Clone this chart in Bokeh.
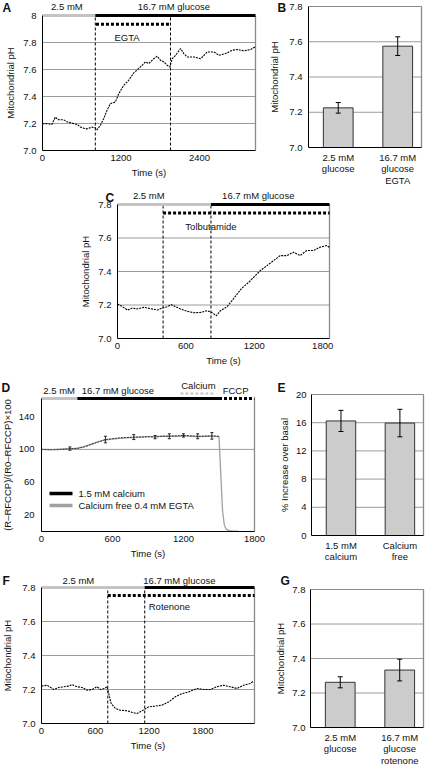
from bokeh.plotting import figure
from bokeh.models import (Range1d, FixedTicker, Label, Whisker, TeeHead,
                          ColumnDataSource, NumeralTickFormatter)
from bokeh.layouts import row, column
from bokeh.embed import file_html
from bokeh.resources import INLINE

FONT = "Liberation Sans"
TXT = "9.5px"
INK = "#111111"
LIGHT = "#c4c4c4"
GRID = "#9c9c9c"
EDGE = "#8a8a8a"

# ---------------- data ----------------
# Panel A : mitochondrial pH, glucose + EGTA
a_time = [0, 66, 143, 194, 245, 322, 373, 450, 526, 603, 679, 756, 807, 832, 884, 935,
          986, 1037, 1113, 1165, 1241, 1318, 1394, 1496, 1573, 1624, 1700, 1752, 1803,
          1854, 1905, 1946, 1982, 2033, 2109, 2160, 2211, 2314, 2416, 2518, 2620, 2697,
          2799, 2901, 2978, 3080, 3182, 3248]
a_ph = [7.198, 7.2, 7.193, 7.247, 7.228, 7.228, 7.213, 7.203, 7.193, 7.168, 7.16, 7.173,
        7.168, 7.153, 7.186, 7.235, 7.297, 7.347, 7.359, 7.42, 7.483, 7.52, 7.574, 7.619,
        7.656, 7.644, 7.68, 7.698, 7.668, 7.656, 7.631, 7.619, 7.68, 7.705, 7.755, 7.718,
        7.693, 7.693, 7.68, 7.73, 7.73, 7.705, 7.718, 7.743, 7.748, 7.738, 7.748, 7.767]
a_gluc_on = 807
a_egta_on = 817
a_egta_off = 1956
a_xmax = 3255
a_xticks = [0, 1200, 2400]
a_yticks = [7.0, 7.2, 7.4, 7.6, 7.8, 8.0]

# Panel B
b_labels = ["2.5 mM\nglucose", "16.7 mM\nglucose\nEGTA"]
b_mean = [7.225, 7.575]
b_sem = [0.03, 0.053]

# Panel C : tolbutamide
c_time = [0, 44, 87, 131, 175, 233, 291, 350, 393, 437, 472, 510, 553, 612, 670, 728,
          786, 830, 868, 903, 961, 1005, 1049, 1092, 1150, 1209, 1252, 1311, 1369, 1427,
          1486, 1544, 1602, 1660, 1719, 1777, 1835, 1858]
c_ph = [7.206, 7.19, 7.17, 7.182, 7.176, 7.186, 7.178, 7.17, 7.182, 7.19, 7.202, 7.19,
        7.176, 7.162, 7.154, 7.156, 7.166, 7.154, 7.136, 7.166, 7.19, 7.226, 7.265, 7.301,
        7.335, 7.375, 7.405, 7.435, 7.465, 7.495, 7.495, 7.515, 7.495, 7.525, 7.525,
        7.545, 7.555, 7.545]
c_tolb_on = 400
c_gluc_on = 820
c_xmax = 1860
t_ticks = [0, 600, 1200, 1800]
ph_ticks = [7.0, 7.2, 7.4, 7.6, 7.8]

# Panel D : normalised ratio, with / without calcium
d_time = [0, 60, 120, 180, 240, 300, 360, 420, 480, 540, 600, 660, 720, 780, 840, 900,
          960, 1020, 1080, 1140, 1200, 1260, 1320, 1380, 1440, 1500]
d_calcium = [100, 100, 99.5, 100, 101, 101, 103, 106, 109, 112, 113, 114, 114.5, 115,
             115, 115.5, 115, 116, 116, 116.5, 117, 116.5, 116, 116, 116.5, 116]
d_free_time = [0, 60, 120, 180, 240, 300, 360, 420, 480, 540, 600, 660, 720, 780, 840,
               900, 960, 1020, 1080, 1140, 1200, 1260, 1320, 1380, 1440, 1500, 1515,
               1530, 1545, 1560, 1590, 1620, 1660]
d_free = [100, 99.5, 100, 100.5, 100.5, 101.5, 103.5, 106.5, 109.5, 111.5, 112.5, 113.5,
          114, 114.5, 115, 115.5, 115.5, 116, 116, 116, 116.5, 116, 115.5, 116, 116, 115.5,
          70, 25, 8, 3, 1, 0.5, 0.5]
d_err_idx = [4, 9, 13, 16, 18, 20, 22, 24]
d_err = [2, 4, 3, 2, 3, 2, 3, 4]
d_series = ["1.5 mM calcium", "Calcium free 0.4 mM EGTA"]
d_colors = ["black", "#a0a0a0"]
d_gluc_on = 303
d_fccp_on = 1500
d_cal_start = 1174
d_cal_end = 1455
d_xmax = 1800
d_ymax = 162
d_yticks = [20, 60, 100, 140]
d_grid = [100]

# Panel E
e_labels = ["1.5 mM\ncalcium", "Calcium\nfree"]
e_mean = [16.25, 15.95]
e_sem = [1.5, 1.95]
e_ticks = [0, 4, 8, 12, 16, 20]

# Panel F : rotenone
f_time = [0, 63, 137, 193, 249, 304, 341, 397, 453, 509, 564, 620, 657, 702, 731, 750,
          776, 824, 880, 954, 1028, 1065, 1102, 1147, 1195, 1269, 1344, 1418, 1492, 1566,
          1641, 1733, 1808, 1882, 1956, 2030, 2105, 2179, 2253, 2327, 2365]
f_ph = [7.22, 7.225, 7.2, 7.212, 7.216, 7.22, 7.229, 7.216, 7.212, 7.196, 7.2, 7.216,
        7.2, 7.206, 7.216, 7.176, 7.118, 7.088, 7.078, 7.075, 7.063, 7.059, 7.069, 7.082,
        7.098, 7.102, 7.108, 7.127, 7.157, 7.176, 7.186, 7.206, 7.2, 7.2, 7.216, 7.225,
        7.216, 7.206, 7.225, 7.235, 7.25]
f_rot_on = 739
f_gluc_on = 1151
f_xmax = 2375

# Panel G
g_labels = ["2.5 mM\nglucose", "16.7 mM\nglucose\nrotenone"]
g_mean = [7.262, 7.333]
g_sem = [0.032, 0.063]


# ---------------- helpers ----------------
class Box:
    """Maps the plot box (data x0..x1, y0..y1) onto a pixel rectangle of the figure."""
    def __init__(self, w, h, left, top, bw, bh, x0, x1, y0, y1):
        self.x0, self.x1, self.y0, self.y1 = x0, x1, y0, y1
        self.sx = bw / (x1 - x0)
        self.sy = bh / (y1 - y0)
        self.xa = x0 - left / self.sx
        self.xb = x1 + (w - left - bw) / self.sx
        self.yb = y1 + top / self.sy
        self.ya = y0 - (h - top - bh) / self.sy

    def X(self, px):
        return self.xa + px / self.sx

    def Y(self, py):
        return self.yb - py / self.sy


def style_axis(ax, tick_so, label_so):
    ax.axis_line_color = "black"
    ax.axis_line_width = 1
    ax.major_tick_out = 0
    ax.major_tick_in = 0
    ax.minor_tick_out = 0
    ax.minor_tick_in = 0
    ax.major_label_text_font = FONT
    ax.major_label_text_font_size = TXT
    ax.major_label_text_color = INK
    ax.axis_label_text_font = FONT
    ax.axis_label_text_font_size = TXT
    ax.axis_label_text_font_style = "normal"
    ax.axis_label_text_color = INK
    ax.major_label_standoff = tick_so
    ax.axis_label_standoff = label_so


def make_panel(w, h, left, top, bw, bh, x0, x1, y0, y1, yticks, grid_ticks,
               xticks=None, y_so=(5, 5)):
    b = Box(w, h, left, top, bw, bh, x0, x1, y0, y1)
    p = figure(width=w, height=h, x_range=Range1d(b.xa, b.xb), y_range=Range1d(b.ya, b.yb),
               output_backend="svg", toolbar_location=None,
               min_border_left=0, min_border_right=0, min_border_top=0, min_border_bottom=0)
    p.outline_line_color = None
    p.xgrid.visible = False
    p.ygrid.visible = False
    p.xaxis.fixed_location = y0
    p.xaxis.bounds = (x0, x1)
    p.yaxis.fixed_location = x0
    p.yaxis.bounds = (y0, y1)
    style_axis(p.xaxis[0], 4, 3)
    style_axis(p.yaxis[0], *y_so)
    p.yaxis.ticker = FixedTicker(ticks=yticks)
    if xticks is not None:
        p.xaxis.ticker = FixedTicker(ticks=xticks)
    n = len(grid_ticks)
    p.segment(x0=[x0] * n, y0=grid_ticks, x1=[x1] * n, y1=grid_ticks,
              line_color=GRID, line_width=1)
    # right edge of the box
    p.segment(x0=[x1], y0=[y0], x1=[x1], y1=[y1], line_color=EDGE, line_width=1.3)
    return p, b


def hbar(p, x0, x1, y, color, dash="solid", width=3):
    p.segment(x0=[x0], y0=[y], x1=[x1], y1=[y], line_color=color,
              line_width=width, line_dash=dash)


def vline(p, b, t):
    p.segment(x0=[t], y0=[b.y0], x1=[t], y1=[b.y1], line_color="black",
              line_width=1, line_dash="3 2")


def txt(p, x, y, text, align="center", size=TXT, bold=False, color=INK):
    p.add_layout(Label(x=x, y=y, text=text, text_align=align, text_baseline="middle",
                       text_font=FONT, text_font_size=size,
                       text_font_style="bold" if bold else "normal", text_color=color))


def letter(p, b, px, py, text):
    txt(p, b.X(px), b.Y(py), text, align="left", size="12px", bold=True)


def trace(p, xs, ys, color="black"):
    p.line(xs, ys, line_color=color, line_width=1.1, line_dash="2 1")


def bar_panel(w, h, left, top, bw, bh, labels, means, sems, y0, y1, yticks, ylabel,
              y_so=(5, 5)):
    p, b = make_panel(w, h, left, top, bw, bh, 0.5, 2.4, y0, y1, yticks, yticks[1:],
                      y_so=y_so)
    p.segment(x0=[b.x0], y0=[y1], x1=[b.x1], y1=[y1], line_color=EDGE, line_width=1)
    xs = list(range(1, len(labels) + 1))
    src = ColumnDataSource(dict(x=xs, top=means,
                                upper=[m + s for m, s in zip(means, sems)],
                                lower=[m - s for m, s in zip(means, sems)]))
    p.vbar(x="x", top="top", bottom=y0, width=0.5, source=src,
           fill_color="#cccccc", line_color="#333333", line_width=1)
    p.add_layout(Whisker(source=src, base="x", upper="upper", lower="lower",
                         line_color="black", line_width=1, level="annotation",
                         upper_head=TeeHead(size=5, line_color="black", line_width=1),
                         lower_head=TeeHead(size=5, line_color="black", line_width=1)))
    p.xaxis.ticker = FixedTicker(ticks=xs)
    p.xaxis.major_label_overrides = {x: l for x, l in zip(xs, labels)}
    p.xaxis.major_label_standoff = 4
    p.xaxis.major_label_text_line_height = 1.05
    p.yaxis.axis_label = ylabel
    return p, b


# ---------------- Panel A ----------------
pa, ba = make_panel(268, 190, 42, 15, 213, 135, 0, a_xmax, 7.0, 8.0,
                    a_yticks, a_yticks[1:-1], a_xticks, y_so=(6, 4))
pa.yaxis.formatter = NumeralTickFormatter(format="0.0")
pa.yaxis.major_label_overrides = {8: "8"}
pa.xaxis.axis_label = "Time (s)"
pa.yaxis.axis_label = "Mitochondrial pH"
trace(pa, a_time, a_ph)
vline(pa, ba, a_gluc_on)
vline(pa, ba, a_egta_off)
hbar(pa, 0, a_gluc_on, 8.0, LIGHT)
hbar(pa, a_gluc_on, a_xmax, 8.0, "black")
hbar(pa, a_egta_on, a_egta_off, 7.936, "black", "3 2")
txt(pa, (a_egta_on + a_egta_off) / 2 - 95, 7.837, "EGTA")
txt(pa, 373, ba.Y(6), "2.5 mM")
txt(pa, 2007, ba.Y(6), "16.7 mM glucose")
letter(pa, ba, 2, 7, "A")

# ---------------- Panel B ----------------
pb, bb = bar_panel(157, 190, 40, 6, 113, 141, b_labels, b_mean, b_sem, 7.0, 7.8,
                   ph_ticks, "Mitochondrial pH", y_so=(6, 6))
pb.yaxis.formatter = NumeralTickFormatter(format="0.0")
letter(pb, bb, 9, 7, "B")

# ---------------- Panel C ----------------
pc, bc = make_panel(425, 190, 117, 14, 212, 134, 0, c_xmax, 7.0, 7.8,
                    ph_ticks, ph_ticks[1:-1], t_ticks, y_so=(6, 4))
pc.yaxis.formatter = NumeralTickFormatter(format="0.0")
pc.xaxis.axis_label = "Time (s)"
pc.yaxis.axis_label = "Mitochondrial pH"
trace(pc, c_time, c_ph)
vline(pc, bc, c_tolb_on)
vline(pc, bc, c_gluc_on)
hbar(pc, 0, c_gluc_on, 7.8, LIGHT)
hbar(pc, c_gluc_on, c_xmax, 7.8, "black")
hbar(pc, c_tolb_on, c_xmax, 7.75, "black", "3 2")
txt(pc, c_gluc_on, 7.669, "Tolbutamide")
txt(pc, 274, bc.Y(5), "2.5 mM")
txt(pc, 1235, bc.Y(5), "16.7 mM glucose")
letter(pc, bc, 105, 7, "C")

# ---------------- Panel D ----------------
pd_, bd = make_panel(268, 195, 41, 18, 213, 133, 0, d_xmax, 0, d_ymax,
                     d_yticks, d_grid, t_ticks, y_so=(7, 3))
pd_.xaxis.axis_label = "Time (s)"
pd_.yaxis.axis_label = "(R\u2013RFCCP)/(R0\u2013RFCCP)\u00d7100"
pd_.line(d_free_time, d_free, line_color=d_colors[1], line_width=1.3)
pd_.line(d_time, d_calcium, line_color="#333333", line_width=1, line_dash="2 1")
d_src = ColumnDataSource(dict(
    x=[d_time[i] for i in d_err_idx],
    upper=[d_calcium[i] + e for i, e in zip(d_err_idx, d_err)],
    lower=[d_calcium[i] - e for i, e in zip(d_err_idx, d_err)]))
pd_.add_layout(Whisker(source=d_src, base="x", upper="upper", lower="lower",
                       line_color="#222222", line_width=1, level="annotation",
                       upper_head=TeeHead(size=3, line_color="#222222", line_width=1),
                       lower_head=TeeHead(size=3, line_color="#222222", line_width=1)))
# legend (key lines + labels)
for k, (name, col) in enumerate(zip(d_series, d_colors)):
    yk = bd.Y(113 + 12 * k)
    pd_.segment(x0=[bd.X(49)], y0=[yk], x1=[bd.X(72)], y1=[yk], line_color=col,
                line_width=3.5)
    txt(pd_, bd.X(78), yk, name, align="left")
hbar(pd_, 0, d_gluc_on, d_ymax, LIGHT)
hbar(pd_, d_gluc_on, d_fccp_on, d_ymax, "black")
hbar(pd_, d_fccp_on, d_xmax, d_ymax, "black", "3 2")
hbar(pd_, d_cal_start, d_cal_end, bd.Y(13), LIGHT, "3 2", 2)
txt(pd_, 149, bd.Y(10), "2.5 mM")
txt(pd_, 646, bd.Y(10), "16.7 mM glucose")
txt(pd_, 1326, bd.Y(5), "Calcium")
txt(pd_, 1640, bd.Y(10), "FCCP")
letter(pd_, bd, 1, 7, "D")

# ---------------- Panel E ----------------
pe, be = bar_panel(157, 195, 43, 14, 112, 141, e_labels, e_mean, e_sem, 0, 20,
                   e_ticks, "% Increase over basal", y_so=(5, 3))
letter(pe, be, 9, 7, "E")

# ---------------- Panel F ----------------
pf, bf = make_panel(268, 190, 41, 12, 213, 136, 0, f_xmax, 7.0, 7.8,
                    ph_ticks, ph_ticks[1:-1], t_ticks, y_so=(6, 6))
pf.yaxis.formatter = NumeralTickFormatter(format="0.0")
pf.xaxis.axis_label = "Time (s)"
pf.yaxis.axis_label = "Mitochondrial pH"
trace(pf, f_time, f_ph)
vline(pf, bf, f_rot_on)
vline(pf, bf, f_gluc_on)
hbar(pf, 0, f_gluc_on, 7.8, LIGHT)
hbar(pf, f_gluc_on, f_xmax, 7.8, "black")
hbar(pf, f_rot_on, f_xmax, 7.753, "black", "3 2")
txt(pf, f_gluc_on + 45, 7.69, "Rotenone", align="left")
txt(pf, 412, bf.Y(4.5), "2.5 mM")
txt(pf, 1537, bf.Y(4.5), "16.7 mM glucose")
letter(pf, bf, 2, 5, "F")

# ---------------- Panel G ----------------
pg, bg = bar_panel(157, 190, 42, 14, 113, 138, g_labels, g_mean, g_sem, 7.0, 7.8,
                   ph_ticks, "Mitochondrial pH", y_so=(5, 3))
pg.yaxis.formatter = NumeralTickFormatter(format="0.0")
letter(pg, bg, 12, 5, "G")

layout = column(row(pa, pb), pc, row(pd_, pe), row(pf, pg))
open("out.html", "w").write(file_html(layout, INLINE))
